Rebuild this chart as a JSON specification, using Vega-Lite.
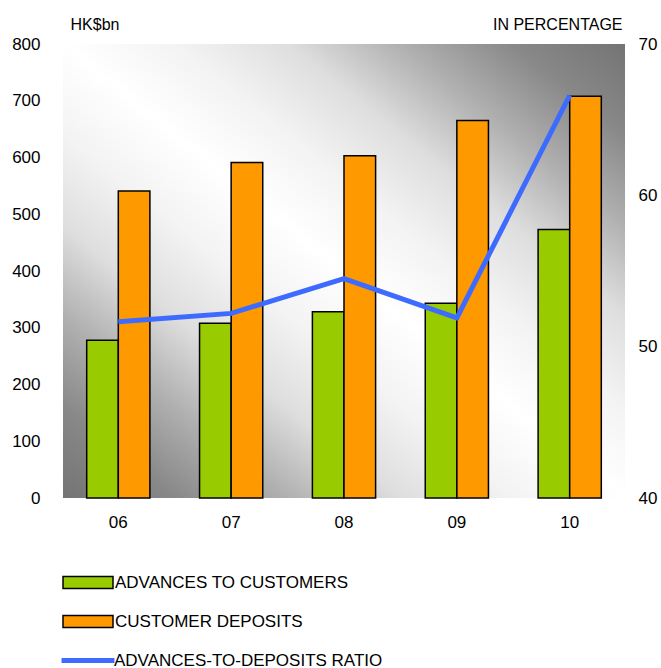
{
  "$schema": "https://vega.github.io/schema/vega-lite/v6.json",
  "width": 562,
  "height": 454,
  "autosize": "none",
  "padding": {"left": 63, "top": 44, "right": 36, "bottom": 170},
  "background": "white",
  "config": {
    "font": "Liberation Sans",
    "view": {
      "stroke": null,
      "fill": {
        "gradient": "linear",
        "x1": 0, "y1": 1, "x2": 1, "y2": 0,
        "stops": [
          {"offset": 0, "color": "#747474"},
          {"offset": 0.1, "color": "#888888"},
          {"offset": 0.2, "color": "#b0b0b0"},
          {"offset": 0.3, "color": "#dedede"},
          {"offset": 0.4, "color": "#f3f3f3"},
          {"offset": 0.5, "color": "#ffffff"},
          {"offset": 0.6, "color": "#f3f3f3"},
          {"offset": 0.7, "color": "#dedede"},
          {"offset": 0.8, "color": "#b0b0b0"},
          {"offset": 0.9, "color": "#888888"},
          {"offset": 1, "color": "#747474"}
        ]
      }
    },
    "axis": {
      "domain": false,
      "ticks": false,
      "grid": false,
      "labelFont": "Liberation Sans",
      "labelFontSize": 17,
      "labelColor": "#000000",
      "titleFont": "Liberation Sans",
      "titleFontSize": 16,
      "titleFontWeight": "normal",
      "titleColor": "#000000"
    },
    "legend": {
      "labelFont": "Liberation Sans",
      "labelFontSize": 17,
      "labelColor": "#000000",
      "labelLimit": 600
    }
  },
  "datasets": {
    "bars": [
      {"year": "06", "series": "ADVANCES TO CUSTOMERS", "value": 278},
      {"year": "06", "series": "CUSTOMER DEPOSITS", "value": 541},
      {"year": "07", "series": "ADVANCES TO CUSTOMERS", "value": 308},
      {"year": "07", "series": "CUSTOMER DEPOSITS", "value": 591},
      {"year": "08", "series": "ADVANCES TO CUSTOMERS", "value": 328},
      {"year": "08", "series": "CUSTOMER DEPOSITS", "value": 603},
      {"year": "09", "series": "ADVANCES TO CUSTOMERS", "value": 343},
      {"year": "09", "series": "CUSTOMER DEPOSITS", "value": 665},
      {"year": "10", "series": "ADVANCES TO CUSTOMERS", "value": 473},
      {"year": "10", "series": "CUSTOMER DEPOSITS", "value": 708}
    ],
    "ratio": [
      {"year": "06", "ratio": 51.65},
      {"year": "07", "ratio": 52.2},
      {"year": "08", "ratio": 54.5},
      {"year": "09", "ratio": 51.9},
      {"year": "10", "ratio": 66.6}
    ]
  },
  "encoding": {
    "x": {
      "field": "year",
      "type": "nominal",
      "scale": {"paddingInner": 0.44, "paddingOuter": 0.21},
      "axis": {"title": null, "labelAngle": 0, "labelPadding": 16}
    }
  },
  "layer": [
    {
      "data": {"name": "bars"},
      "mark": {"type": "bar", "stroke": "#000000", "strokeWidth": 1.5},
      "encoding": {
        "xOffset": {"field": "series", "type": "nominal", "sort": ["ADVANCES TO CUSTOMERS", "CUSTOMER DEPOSITS"], "scale": {"paddingInner": 0, "paddingOuter": 0}},
        "y": {
          "field": "value",
          "type": "quantitative",
          "scale": {"domain": [0, 800], "nice": false},
          "axis": {
            "values": [0, 100, 200, 300, 400, 500, 600, 700, 800],
            "labelPadding": 23,
            "title": "HK$bn",
            "titleAngle": 0,
            "titleAlign": "left",
            "titleBaseline": "middle",
            "titleX": 7,
            "titleY": -20
          }
        },
        "fill": {
          "field": "series",
          "type": "nominal",
          "scale": {"domain": ["ADVANCES TO CUSTOMERS", "CUSTOMER DEPOSITS"], "range": ["#99CC00", "#FF9900"]},
          "legend": {
            "title": null,
            "orient": "none",
            "legendX": -1,
            "legendY": 519,
            "direction": "vertical",
            "symbolType": "M-1,-0.24H1V0.24H-1Z",
            "symbolSize": 2500,
            "symbolStrokeColor": "#000000",
            "symbolStrokeWidth": 1.5,
            "clipHeight": 39,
            "rowPadding": 0,
            "labelOffset": 1
          }
        }
      }
    },
    {
      "data": {"name": "ratio"},
      "mark": {"type": "line", "strokeWidth": 5},
      "encoding": {
        "y": {
          "field": "ratio",
          "type": "quantitative",
          "scale": {"domain": [40, 70], "nice": false, "zero": false},
          "axis": {
            "orient": "right",
            "values": [40, 50, 60, 70],
            "labelPadding": 13,
            "title": "IN PERCENTAGE",
            "titleAngle": 0,
            "titleAlign": "right",
            "titleBaseline": "middle",
            "titleX": -3,
            "titleY": -20
          }
        },
        "stroke": {
          "datum": "ADVANCES-TO-DEPOSITS RATIO",
          "type": "nominal",
          "scale": {"domain": ["ADVANCES-TO-DEPOSITS RATIO"], "range": ["#3D6BFF"]},
          "legend": {
            "title": null,
            "orient": "none",
            "legendX": -4,
            "legendY": 597,
            "symbolType": "stroke",
            "symbolSize": 2800,
            "symbolStrokeWidth": 5,
            "clipHeight": 39,
            "labelOffset": -3
          }
        }
      }
    }
  ],
  "resolve": {"scale": {"y": "independent", "fill": "independent", "stroke": "independent"}}
}
